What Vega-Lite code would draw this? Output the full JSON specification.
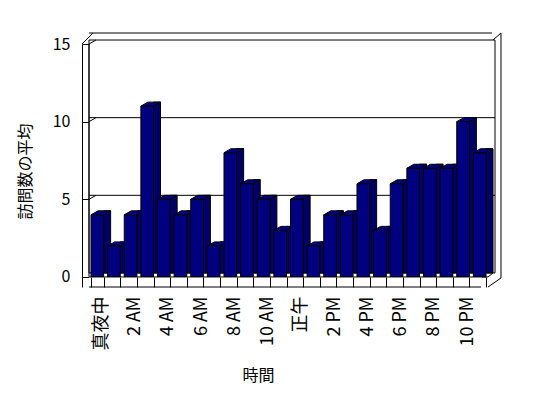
{
  "$schema": "https://vega.github.io/schema/vega-lite/v6.json",
  "autosize": {"type": "none"},
  "width": 399,
  "height": 243,
  "padding": {"left": 89, "top": 44, "right": 60, "bottom": 111},
  "background": "#ffffff",
  "config": {
    "view": {"stroke": null},
    "font": "Noto Sans CJK JP"
  },
  "data": {"values": [
    {"時間": "真夜中", "訪問数の平均": 4},
    {"時間": "1 AM", "訪問数の平均": 2},
    {"時間": "2 AM", "訪問数の平均": 4},
    {"時間": "3 AM", "訪問数の平均": 11},
    {"時間": "4 AM", "訪問数の平均": 5},
    {"時間": "5 AM", "訪問数の平均": 4},
    {"時間": "6 AM", "訪問数の平均": 5},
    {"時間": "7 AM", "訪問数の平均": 2},
    {"時間": "8 AM", "訪問数の平均": 8},
    {"時間": "9 AM", "訪問数の平均": 6},
    {"時間": "10 AM", "訪問数の平均": 5},
    {"時間": "11 AM", "訪問数の平均": 3},
    {"時間": "正午", "訪問数の平均": 5},
    {"時間": "1 PM", "訪問数の平均": 2},
    {"時間": "2 PM", "訪問数の平均": 4},
    {"時間": "3 PM", "訪問数の平均": 4},
    {"時間": "4 PM", "訪問数の平均": 6},
    {"時間": "5 PM", "訪問数の平均": 3},
    {"時間": "6 PM", "訪問数の平均": 6},
    {"時間": "7 PM", "訪問数の平均": 7},
    {"時間": "8 PM", "訪問数の平均": 7},
    {"時間": "9 PM", "訪問数の平均": 7},
    {"時間": "10 PM", "訪問数の平均": 10},
    {"時間": "11 PM", "訪問数の平均": 8}
  ]},
  "layer": [
    {
      "data": {"values": [{}]},
      "mark": {"type": "rule", "color": "#000000", "strokeWidth": 1, "xOffset": 4, "x2Offset": 13, "yOffset": -11},
      "encoding": {"y": {"datum": 15}}
    },
    {
      "data": {"values": [{}]},
      "mark": {"type": "rule", "color": "#000000", "strokeWidth": 1, "xOffset": 21.3, "yOffset": -11, "y2Offset": 1},
      "encoding": {"x": {"datum": "11 PM"}, "y": {"datum": 15}, "y2": {"datum": 0}}
    },
    {
      "data": {"values": [{}]},
      "mark": {"type": "rect", "fill": "#ffffff", "stroke": "#000000", "strokeWidth": 1, "xOffset": 7, "x2Offset": 5, "yOffset": -4, "y2Offset": -4},
      "encoding": {"y": {"datum": 15}, "y2": {"datum": 0}}
    },
    {
      "data": {"values": [{"t": 5}, {"t": 10}]},
      "mark": {"type": "rule", "color": "#000000", "strokeWidth": 1, "xOffset": 7, "x2Offset": 5, "yOffset": -4},
      "encoding": {"y": {"field": "t", "type": "quantitative"}}
    },
    {
      "data": {"values": [{"t": 5}, {"t": 10}, {"t": 15}]},
      "mark": {"type": "rule", "color": "#000000", "strokeWidth": 1, "xOffset": -8.31, "x2Offset": -1.31, "y2Offset": -4},
      "encoding": {
        "x": {"datum": "真夜中"}, "x2": {"datum": "真夜中"},
        "y": {"field": "t", "type": "quantitative"}, "y2": {"field": "t"}
      }
    },
    {
      "data": {"values": [{}]},
      "mark": {"type": "rule", "color": "#000000", "strokeWidth": 1, "xOffset": -15.31, "x2Offset": -4.31, "y2Offset": -11},
      "encoding": {"x": {"datum": "真夜中"}, "x2": {"datum": "真夜中"}, "y": {"datum": 15}, "y2": {"datum": 15}}
    },
    {
      "data": {"values": [{}]},
      "mark": {"type": "rule", "color": "#000000", "strokeWidth": 1, "xOffset": 13.3, "x2Offset": 21.3, "yOffset": -4, "y2Offset": -11},
      "encoding": {"x": {"datum": "11 PM"}, "x2": {"datum": "11 PM"}, "y": {"datum": 15}, "y2": {"datum": 15}}
    },
    {
      "data": {"values": [{}]},
      "mark": {"type": "rule", "color": "#000000", "strokeWidth": 1, "xOffset": -8.31},
      "encoding": {"x": {"datum": "真夜中"}, "y": {"datum": 15}, "y2": {"datum": 0}}
    },
    {
      "mark": {"type": "bar", "width": 7, "xOffset": 9.82, "yOffset": -4, "fill": "#000066", "stroke": "#000000", "strokeWidth": 1},
      "encoding": {
        "x": {"field": "時間", "type": "nominal"},
        "y": {"field": "訪問数の平均", "type": "quantitative"}
      }
    },
    {
      "mark": {"type": "point", "shape": "M-0.632,0L0.632,0L1.332,-0.4L0.068,-0.4Z", "size": 400, "filled": true, "fill": "#000080", "stroke": "#000000", "strokeWidth": 1, "opacity": 1},
      "encoding": {
        "x": {"field": "時間", "type": "nominal"},
        "y": {"field": "訪問数の平均", "type": "quantitative"}
      }
    },
    {
      "mark": {"type": "bar", "fill": "#000080", "stroke": "#000000", "strokeWidth": 1},
      "encoding": {
        "x": {"field": "時間", "type": "nominal",
          "scale": {"type": "band", "paddingInner": 0.24, "paddingOuter": 0.12,
            "domain": ["真夜中", "1 AM", "2 AM", "3 AM", "4 AM", "5 AM", "6 AM", "7 AM", "8 AM", "9 AM", "10 AM", "11 AM", "正午", "1 PM", "2 PM", "3 PM", "4 PM", "5 PM", "6 PM", "7 PM", "8 PM", "9 PM", "10 PM", "11 PM"]},
          "axis": {
            "orient": "bottom", "domain": false, "tickBand": "extent", "tickSize": -10,
            "tickColor": "#000000", "tickWidth": 1, "zindex": 1,
            "labelAngle": -90, "labelFontSize": 18, "labelColor": "#000000", "labelPadding": 19,
            "labelOffset": 4, "labelOverlap": false, "labelFont": "Noto Sans CJK JP",
            "labelExpr": "test(/^(1|3|5|7|9|11) /, datum.value) ? '' : datum.value",
            "title": "時間", "titleFontSize": 16, "titleFontWeight": "normal", "titleColor": "#000000",
            "titleFont": "Noto Sans CJK JP", "titleX": 169, "titleY": 88, "titleBaseline": "middle", "titleAlign": "center"
          }},
        "y": {"field": "訪問数の平均", "type": "quantitative",
          "scale": {"domain": [-0.645, 15], "nice": false, "zero": false},
          "axis": {
            "orient": "left", "offset": 7, "values": [0, 5, 10, 15], "format": "d",
            "domain": true, "domainColor": "#000000", "tickSize": -7, "tickColor": "#000000",
            "grid": false, "labelFontSize": 16, "labelColor": "#000000", "labelPadding": 19,
            "labelFont": "Noto Sans CJK JP",
            "title": "訪問数の平均", "titleFontSize": 16, "titleFontWeight": "normal", "titleColor": "#000000",
            "titleFont": "Noto Sans CJK JP", "titleX": -57, "titleY": 127, "titleBaseline": "middle", "titleAlign": "center", "titleAngle": -90
          }}
      }
    },
    {
      "data": {"values": [{}]},
      "mark": {"type": "rect", "fill": "#ffffff", "xOffset": -6},
      "encoding": {"y": {"datum": -0.645}, "y2": {"datum": 0}}
    },
    {
      "data": {"values": [{}]},
      "mark": {"type": "rule", "color": "#000000", "strokeWidth": 1},
      "encoding": {"y": {"datum": 0}}
    },
    {
      "data": {"values": [{}]},
      "mark": {"type": "rule", "color": "#000000", "strokeWidth": 1, "xOffset": -7},
      "encoding": {"y": {"datum": -0.645}}
    },
    {
      "data": {"values": [{}]},
      "mark": {"type": "rule", "color": "#000000", "strokeWidth": 1, "xOffset": 8.31, "x2Offset": 21.3, "y2Offset": 1},
      "encoding": {"x": {"datum": "11 PM"}, "x2": {"datum": "11 PM"}, "y": {"datum": -0.645}, "y2": {"datum": 0}}
    },
    {
      "data": {"values": [{}]},
      "mark": {"type": "rule", "color": "#000000", "strokeWidth": 1, "xOffset": 8.31, "x2Offset": 13.3, "y2Offset": -4},
      "encoding": {"x": {"datum": "11 PM"}, "x2": {"datum": "11 PM"}, "y": {"datum": 0}, "y2": {"datum": 0}}
    }
  ]
}
